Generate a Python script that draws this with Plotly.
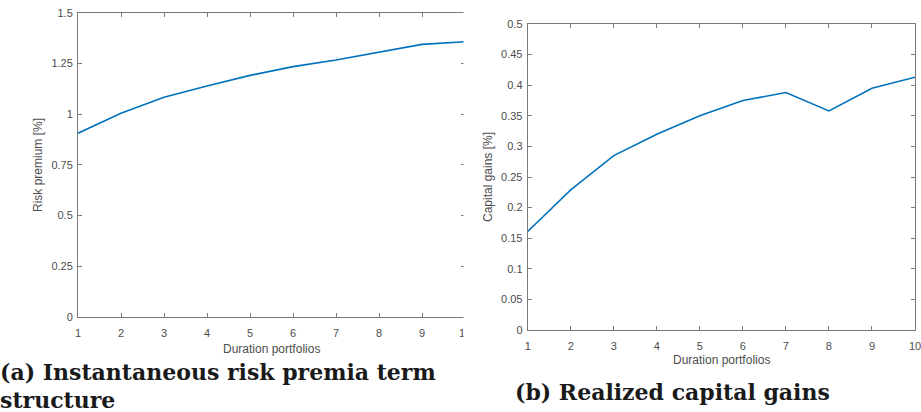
import plotly.graph_objects as go

portfolios = [1, 2, 3, 4, 5, 6, 7, 8, 9, 10]
risk_premium = [0.906, 1.004, 1.083, 1.139, 1.191, 1.234, 1.267, 1.305, 1.344, 1.357]
capital_gains = [0.161, 0.229, 0.285, 0.320, 0.350, 0.375, 0.388, 0.358, 0.395, 0.413]

left_yticks = [0, 0.25, 0.5, 0.75, 1, 1.25, 1.5]
left_yticktext = ["0", "0.25", "0.5", "0.75", "1", "1.25", "1.5"]
right_yticks = [0, 0.05, 0.1, 0.15, 0.2, 0.25, 0.3, 0.35, 0.4, 0.45, 0.5]
right_yticktext = ["0", "0.05", "0.1", "0.15", "0.2", "0.25", "0.3", "0.35", "0.4", "0.45", "0.5"]

W, H = 921, 412
LINE = "#0072BD"
AX = "#7a7a7a"
TXT = "#4d4d4d"

fig = go.Figure()
fig.add_trace(go.Scatter(x=portfolios, y=risk_premium, mode="lines",
                         line=dict(color=LINE, width=1.6), xaxis="x", yaxis="y",
                         showlegend=False, hoverinfo="skip"))
fig.add_trace(go.Scatter(x=portfolios, y=capital_gains, mode="lines",
                         line=dict(color=LINE, width=1.6), xaxis="x2", yaxis="y2",
                         showlegend=False, hoverinfo="skip"))

common = dict(showline=True, linecolor=AX, linewidth=1, mirror="ticks",
              ticks="inside", ticklen=4, tickcolor=AX, tickwidth=1,
              showgrid=False, zeroline=False, automargin=False,
              ticklabeloverflow="allow",
              tickfont=dict(family="Liberation Sans", size=11, color=TXT))
xcommon = dict(common, ticklabelstandoff=6)
ycommon = dict(common, ticklabelstandoff=2)

fig.update_layout(
    width=W, height=H, margin=dict(l=0, r=0, t=0, b=0, autoexpand=False),
    paper_bgcolor="white", plot_bgcolor="white",
    xaxis=dict(domain=[78 / W, 465 / W], range=[1, 10], anchor="y",
               tickvals=portfolios, **xcommon),
    yaxis=dict(domain=[(H - 317) / H, (H - 12.7) / H], range=[0, 1.5], anchor="x",
               tickvals=left_yticks, ticktext=left_yticktext, **ycommon),
    xaxis2=dict(domain=[527.7 / W, 915 / W], range=[1, 10], anchor="y2",
                tickvals=portfolios, **xcommon),
    yaxis2=dict(domain=[(H - 330) / H, (H - 24) / H], range=[0, 0.5], anchor="x2",
                tickvals=right_yticks, ticktext=right_yticktext, **ycommon),
    shapes=[dict(type="rect", xref="paper", yref="paper",
                 x0=463.5 / W, x1=472 / W, y0=0, y1=1,
                 fillcolor="white", line=dict(width=0), layer="above")],
)

title_font = dict(family="Liberation Sans", size=12, color=TXT)
cap_font = dict(family="DejaVu Serif", size=22, color="#1a1a1a")
annotations = [
    dict(text="Duration portfolios", x=271.5 / W, y=(H - 349) / H, xref="paper", yref="paper",
         showarrow=False, font=title_font, xanchor="center", yanchor="middle"),
    dict(text="Risk premium [%]", x=38 / W, y=(H - 165) / H, xref="paper", yref="paper",
         showarrow=False, font=title_font, textangle=-90, xanchor="center", yanchor="middle"),
    dict(text="Duration portfolios", x=721.5 / W, y=(H - 360) / H, xref="paper", yref="paper",
         showarrow=False, font=title_font, xanchor="center", yanchor="middle"),
    dict(text="Capital gains [%]", x=488 / W, y=(H - 177) / H, xref="paper", yref="paper",
         showarrow=False, font=title_font, textangle=-90, xanchor="center", yanchor="middle"),
    dict(text="<b>(a) Instantaneous risk premia term</b>", x=-2 / W, y=(H - 372) / H,
         xref="paper", yref="paper", showarrow=False, font=cap_font,
         xanchor="left", yanchor="middle"),
    dict(text="<b>structure</b>", x=-2 / W, y=(H - 400) / H,
         xref="paper", yref="paper", showarrow=False, font=cap_font,
         xanchor="left", yanchor="middle"),
    dict(text="<b>(b) Realized capital gains</b>", x=513 / W, y=(H - 392) / H,
         xref="paper", yref="paper", showarrow=False, font=cap_font,
         xanchor="left", yanchor="middle"),
]
fig.update_layout(annotations=annotations)

fig.write_html("out.html")
